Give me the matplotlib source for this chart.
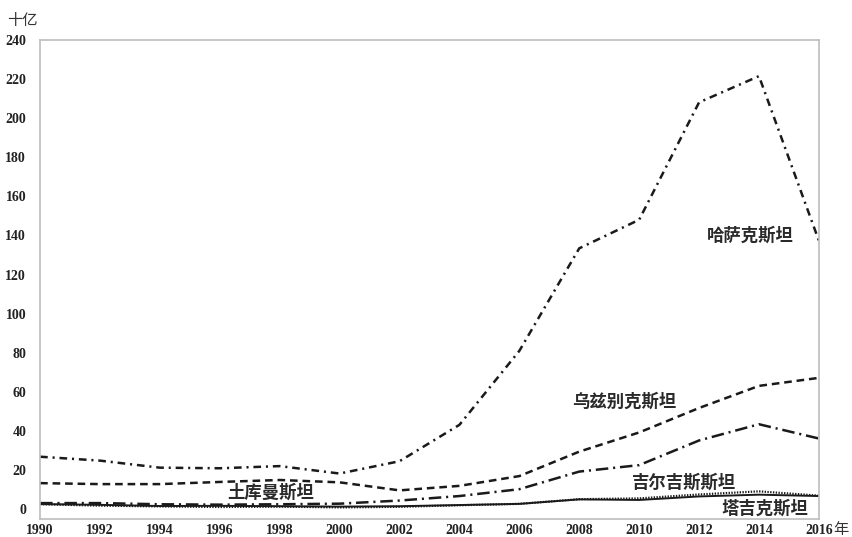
import matplotlib.pyplot as plt
import numpy as np

plt.rcParams['font.family'] = ['Liberation Serif', 'Noto Sans CJK SC', 'DejaVu Sans']
plt.rcParams['lines.scale_dashes'] = False

years = [1990, 1992, 1994, 1996, 1998, 2000, 2002, 2004, 2006, 2008, 2010, 2012, 2014, 2016]
kazakhstan = [26.9, 24.9, 21.3, 21.0, 22.1, 18.3, 24.6, 43.2, 81.0, 133.4, 148.0, 208.0, 221.4, 137.3]
uzbekistan = [13.4, 12.9, 12.9, 14.0, 15.0, 13.8, 9.7, 12.0, 17.0, 29.5, 39.3, 51.8, 63.1, 67.2]
turkmenistan = [3.2, 3.2, 2.6, 2.4, 2.6, 2.9, 4.5, 6.8, 10.3, 19.3, 22.6, 35.2, 43.5, 36.2]
kyrgyzstan = [2.6, 1.9, 1.5, 1.2, 1.4, 1.0, 1.3, 2.1, 2.8, 5.2, 5.6, 7.6, 9.2, 7.0]
tajikistan = [2.7, 2.3, 1.7, 1.8, 1.6, 1.4, 1.6, 2.2, 2.8, 5.1, 4.8, 6.6, 7.5, 6.8]

x_ticks = list(range(1990, 2017, 2))
y_ticks = list(range(0, 241, 20))

fig = plt.figure(figsize=(8.53, 5.37), dpi=100)
ax = fig.add_axes([0.047, 0.034, 0.913, 0.892])

c = '#1a1a1a'
ax.plot(years, kazakhstan, color=c, lw=1.8, dashes=(5.5, 3.5, 1.5, 3.5))
ax.plot(years, uzbekistan, color=c, lw=1.8, dashes=(5.5, 3.5))
ax.plot(years, turkmenistan, color=c, lw=1.8, dashes=(9, 3.5, 1.5, 3.5))
ax.plot(years, kyrgyzstan, color=c, lw=1.6, dashes=(1, 1))
ax.plot(years, tajikistan, color=c, lw=1.4)

ax.set_xlim(1990, 2016)
ax.set_ylim(-4.8, 240)
ax.set_xticks(x_ticks)
ax.set_yticks(y_ticks)
ax.tick_params(length=0, labelsize=10, colors='#222222')
ax.tick_params(axis='y', pad=10)
ax.tick_params(axis='x', pad=4)
for lab in ax.get_xticklabels() + ax.get_yticklabels():
    lab.set_fontweight('bold')
for s in ax.spines.values():
    s.set_color('#bdbdbd')
    s.set_linewidth(1.2)

lab_font = dict(family=['Noto Sans CJK SC'], fontsize=12.5, fontweight='bold', color='#2a2a2a',
                ha='center', va='center')
ax.text(2013.7, 140, '哈萨克斯坦', **lab_font)
ax.text(2009.5, 55, '乌兹别克斯坦', **lab_font)
ax.text(2011.5, 13.5, '吉尔吉斯斯坦', **lab_font)
ax.text(2014.2, 0.5, '塔吉克斯坦', **lab_font)
ax.text(1997.7, 8.5, '土库曼斯坦', **lab_font)

fig.text(0.008, 0.962, '十亿', family=['Noto Sans CJK SC'], fontsize=11, color='#333333',
         ha='left', va='center')
fig.text(0.977, 0.014, '年', family=['Noto Sans CJK SC'], fontsize=11, color='#333333',
         ha='left', va='center')

fig.savefig('out.png', dpi=100)
